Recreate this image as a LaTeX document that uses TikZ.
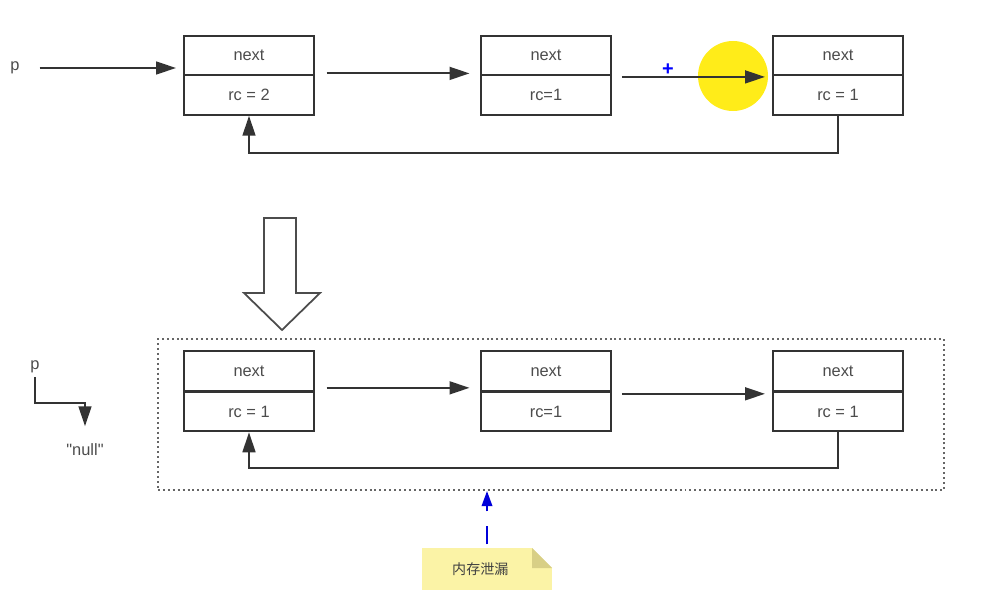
\documentclass[tikz,border=0pt]{standalone}
\usepackage{fontspec}
\setmainfont{Liberation Sans}
\newfontfamily\cjk{Noto Sans CJK SC}
\usetikzlibrary{arrows.meta,calc}

\definecolor{linecol}{HTML}{333333}
\definecolor{notecol}{HTML}{FBF3A6}
\definecolor{foldcol}{HTML}{D8CF86}
\definecolor{markcol}{HTML}{FFEA00}

\tikzset{
  cell/.style={draw=linecol, line width=1.7pt, fill=white, minimum width=3.9cm,
    minimum height=1.19cm, inner sep=0pt, text=black!70,
    font=\fontsize{14}{16}\selectfont},
  txt/.style={inner sep=1pt, text=black!70, font=\fontsize{14}{16}\selectfont},
  link/.style={draw=linecol, line width=1.7pt, -{Triangle[length=17pt,width=11pt]}},
  frame/.style={draw=black!60, line width=1.7pt, dash pattern=on 1.7pt off 2.5pt,
    minimum width=23.58cm, minimum height=4.53cm},
  note/.style={fill=notecol, minimum width=3.9cm, minimum height=1.26cm, inner sep=0pt,
    text=black!75, font=\cjk\fontsize{12}{13}\selectfont,
    path picture={
      \fill[white] (path picture bounding box.north east) -- ++(-0.6cm,0) -- ++(0.6cm,-0.6cm) -- cycle;
      \fill[foldcol] ([xshift=-0.6cm]path picture bounding box.north east) -- ++(0,-0.6cm) -- ++(0.6cm,0) -- cycle;
    }},
}

\begin{document}
\begin{tikzpicture}[x=0.03cm, y=-0.03cm]

% Picture size
\useasboundingbox (0,0) rectangle (991,594);

% Highlight behind the last link
\fill[markcol, opacity=0.9] (733,76) circle (1.05cm);

% Top list
\node[txt] (p1) at (15,68) {p};
\node[cell] (n1) at (249,55.5) {next};
\node[cell] (r1) at (249,95) {rc = 2};
\node[cell] (n2) at (546,55.5) {next};
\node[cell] (r2) at (546,95) {rc=1};
\node[cell] (n3) at (838,55.5) {next};
\node[cell] (r3) at (838,95) {rc = 1};

\draw[link, shorten <=16pt, shorten >=6pt] (p1.east) -- (p1.east -| n1.west);
\draw[link, shorten <=10pt, shorten >=9pt] ([yshift=2.5pt]n1.south east) -- ([yshift=2.5pt]n2.south west);
\draw[link, shorten <=8.5pt, shorten >=6pt] ([yshift=-0.5pt]n2.south east) -- ([yshift=-0.5pt]n3.south west);
\draw[link] (r3.south) -- ++(0,37) -| (r1.south);

% Mouse cursor mark
\node[text=blue, font=\bfseries\fontsize{17}{17}\selectfont] (plus) at (668,70) {+};

% Big hollow arrow
\draw[draw=black!70, line width=1.5pt, fill=white]
  (264,218) -- (296,218) -- (296,293) -- (320,293) -- (282,330) -- (244,293) -- (264,293) -- cycle;

% Bottom list
\node[frame] (frame) at (551,414.5) {};
\node[cell] (m1) at (249,371) {next};
\node[cell] (s1) at (249,411.5) {rc = 1};
\node[cell] (m2) at (546,371) {next};
\node[cell] (s2) at (546,411.5) {rc=1};
\node[cell] (m3) at (838,371) {next};
\node[cell] (s3) at (838,411.5) {rc = 1};

\draw[link, shorten <=10pt, shorten >=9pt] ([yshift=3.4pt]m1.south east) -- ([yshift=3.4pt]m2.south west);
\draw[link, shorten <=8.5pt, shorten >=6pt] ([yshift=-1.7pt]m2.south east) -- ([yshift=-1.7pt]m3.south west);
\draw[link] (s3.south) -- ++(0,36) -| (s1.south);

% p set to null
\node[txt] (p2) at (35,367) {p};
\node[txt] (null) at (85,450) {\textquotedbl null\textquotedbl};
\draw[link, shorten <=2pt, shorten >=14pt] (p2.south) |- ($(null.north)+(0,-40)$) -- (null.north);

% Leak note
\node[note] (leak) at (487,569) {\hspace*{-0.4cm}内存泄漏};
\draw[blue!85!black, line width=1.8pt, dash pattern=on 16pt off 12pt, shorten <=3pt,
  -{Triangle[length=13pt,width=9pt]}] (leak.north) -- (leak.north |- frame.south);

\end{tikzpicture}
\end{document}
